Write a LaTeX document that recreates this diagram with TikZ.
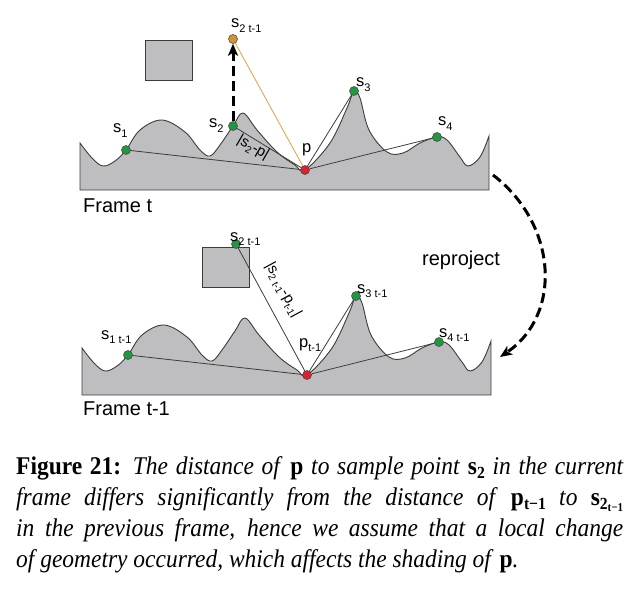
\documentclass[tikz,border=0pt]{standalone}
\usepackage{fontspec}
\setmainfont{Liberation Sans}
\newfontfamily\capfont[FakeStretch=0.92]{Liberation Serif}
\usetikzlibrary{arrows.meta}
\definecolor{surfgray}{RGB}{190,190,193}
\definecolor{edgegray}{RGB}{60,60,60}
\definecolor{ptgreen}{RGB}{35,150,65}
\definecolor{ptred}{RGB}{215,35,45}
\definecolor{ptorange}{RGB}{215,145,55}
\definecolor{lnorange}{RGB}{225,160,70}
\newcommand{\lsub}[2]{#1\raisebox{-0.5ex}{\fontsize{11}{11}\selectfont #2}}
\newcommand{\rsub}[2]{#1\raisebox{-0.45ex}{\fontsize{10}{10}\selectfont #2}}
\newcommand{\capb}[1]{\textup{\textbf{#1}}}
\newcommand{\capsub}[1]{\raisebox{-0.35ex}{\fontsize{17}{17}\selectfont\upshape\bfseries #1}}

\begin{document}
\begin{tikzpicture}[x=1pt,y=-1pt,
  surf/.style={fill=surfgray,draw=edgegray,line width=0.9pt},
  dot/.style={circle,draw=black!75,line width=0.5pt,inner sep=0pt,minimum size=9pt},
  gdot/.style={dot,fill=ptgreen},
  lbl/.style={font=\fontsize{16.5}{16.5}\selectfont,inner sep=0pt,anchor=base west},
  ray/.style={draw=edgegray,line width=0.8pt},
  blok/.style={draw=edgegray,fill=surfgray,line width=1pt,minimum width=47pt,minimum height=40pt},
  jump/.style={line width=3pt,dash pattern=on 10pt off 5pt,-{Stealth[length=12pt,width=10pt,inset=3pt]}}]
\useasboundingbox (0,0) rectangle (640,591);
\foreach \dx/\dy in {0/0,2/205}{
  \draw[surf,shift={(\dx,\dy)}] (80,190) -- plot[smooth,tension=0.6] coordinates {(80,143) (92,158) (103,166)
    (115,161) (126,150) (140,130) (162,120) (185,132) (200,150) (210,156) (220,145) (233,126) (243,113)
    (257,130) (277,152) (295,165) (305,170) (330,143) (347,108) (354,91) (360,98) (369,130) (387,152)
    (403,153) (420,143) (437,137) (447,140) (460,157) (468,166) (480,157) (489,136)} -- (489,190) -- cycle;
}
\node[blok] (box) at (168.5,61) {};
\node[blok] (boxold) at (225.5,267) {};

\node[gdot] (s1) at (126,150) {};
\node[gdot] (s2) at (233,126) {};
\node[gdot] (s3) at (354,91) {};
\node[gdot] (s4) at (437,137) {};
\node[dot,fill=ptred] (p) at (305,170) {};
\node[dot,fill=ptorange] (s2old) at (233,39) {};
\draw[ray] (p) -- (s1);
\draw[ray] (p) -- (s2);
\draw[ray] (p) -- (s3);
\draw[ray] (p) -- (s4);
\draw[lnorange,line width=0.8pt] (s2old) -- (p);
\draw[jump] (s2) -- (s2old);

\node[gdot] (q1) at (128,355) {};
\node[gdot] (q2) at (236,244) {};
\node[gdot] (q3) at (356,296) {};
\node[gdot] (q4) at (439,342) {};
\node[dot,fill=ptred] (q) at (307,375) {};
\draw[ray] (q) -- (q1);
\draw[ray] (q) -- (q2);
\draw[ray] (q) -- (q3);
\draw[ray] (q) -- (q4);

\node[lbl] (ls2old) at (231,28) {\lsub{s}{2 t-1}};
\node[lbl] (ls1) at (113,133) {\lsub{s}{1}};
\node[lbl] (ls2) at (209,128) {\lsub{s}{2}};
\node[lbl] (ls3) at (356,87) {\lsub{s}{3}};
\node[lbl] (ls4) at (438,126) {\lsub{s}{4}};
\node[lbl] (lp) at (302,153) {p};
\node[font=\fontsize{15}{15}\selectfont,inner sep=0pt,rotate=-30] (ld) at (253,148) {|\rsub{s}{2}-p|};
\node[lbl,font=\fontsize{20}{20}\selectfont] (ft) at (83,212) {Frame t};

\node[lbl] (lq2) at (230,241) {\lsub{s}{2 t-1}};
\node[lbl] (lq1) at (101,339) {\lsub{s}{1 t-1}};
\node[lbl] (lq3) at (357,293) {\lsub{s}{3 t-1}};
\node[lbl] (lq4) at (439,337) {\lsub{s}{4 t-1}};
\node[lbl] (lq) at (299,347) {\lsub{p}{t-1}};
\node[font=\fontsize{15}{15}\selectfont,inner sep=0pt,rotate=-61.7] (ldq) at (283,290) {|\rsub{s}{2 t-1}-\rsub{p}{t-1}|};
\node[lbl,font=\fontsize{20}{20}\selectfont] (ftq) at (83,415) {Frame t-1};
\node[lbl,font=\fontsize{20}{20}\selectfont] (rep) at (422,265) {reproject};

\coordinate (rpA) at (493,175);
\coordinate (rpB) at (500,357);
\draw[jump] (rpA) .. controls (558,225) and (562,315) .. (rpB);

\node[anchor=north west,text width=607pt,align=justify,inner sep=0pt,
  font=\capfont\fontsize{25.5}{31}\selectfont] (cap) at (16,456)
  {\hyphenpenalty=10000\relax\textbf{Figure 21:} \itshape The distance of \capb{p} to sample point \capb{s}\capsub{2} in the current\linebreak
  frame differs significantly from the distance of \capb{p}\capsub{t−1} to \capb{s}\capsub{2\raisebox{-0.3ex}{\fontsize{12}{12}\selectfont t−1}}\linebreak
  in the previous frame, hence we assume that a local change\linebreak
  of geometry occurred, which affects the shading of \capb{p}.};
\end{tikzpicture}
\end{document}
